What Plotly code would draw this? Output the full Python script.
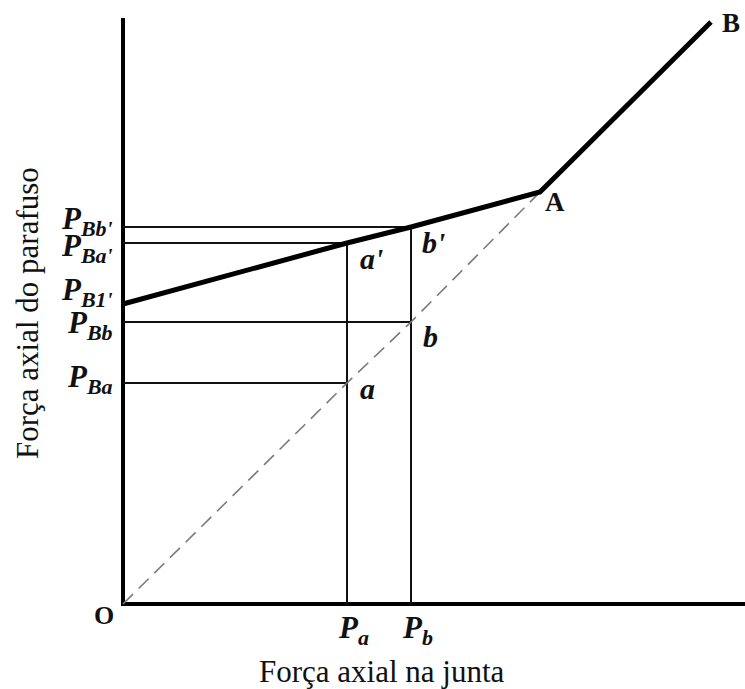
import plotly.graph_objects as go

# Joint diagram: bolt axial force vs. joint axial force (arbitrary units)
P_a, P_b = 224, 288                      # external loads on the joint
A_pt = (417, 412)                        # separation point A
B_pt = (588, 582)                        # end of bolt line, point B
P_B1p = 300                              # bolt force at zero load
P_Ba, P_Bb = 221, 282                    # loads carried along the 45° line
P_Bap, P_Bbp = 361, 377                  # bolt force at P_a and P_b

y_ticks = [P_Bbp, P_Bap, P_B1p, P_Bb, P_Ba]
y_tick_subs = ["Bb'", "Ba'", "B1'", "Bb", "Ba"]
x_ticks = [P_a, P_b]
x_tick_subs = ["a", "b"]

SERIF = "Liberation Serif"
INK = "#111111"

fig = go.Figure()

# thin construction lines at P_a and P_b
for px, y_lo, y_hi in [(P_a, P_Ba, P_Bap), (P_b, P_Bb, P_Bbp)]:
    fig.add_trace(go.Scatter(x=[0, px, px], y=[y_hi, y_hi, 0], mode="lines",
                             line=dict(color=INK, width=2), hoverinfo="skip"))
    fig.add_trace(go.Scatter(x=[0, px], y=[y_lo, y_lo], mode="lines",
                             line=dict(color=INK, width=2), hoverinfo="skip"))

# dashed joint line from the origin to A
fig.add_trace(go.Scatter(x=[0, P_a, P_b, A_pt[0]], y=[0, P_Ba, P_Bb, A_pt[1]],
                         mode="lines", hoverinfo="skip",
                         line=dict(color="#7a7a7a", width=1.6, dash="14px,8px")))

# bolt force line O'-a'-b'-A-B
fig.add_trace(go.Scatter(x=[0, P_a, P_b, A_pt[0], B_pt[0]],
                         y=[P_B1p, P_Bap, P_Bbp, A_pt[1], B_pt[1]],
                         mode="lines", hoverinfo="skip",
                         line=dict(color="#000000", width=5)))

annotations = []


def p_label(sub):
    # bold italic P with a lowered, slightly smaller subscript
    return (f"<b><i>P</i></b><sub><span style='font-size:22px'>"
            f"<b><i>{sub}</i></b></span></sub>")


# y-axis force labels
y_label_shift = [6, -5, 12, -3, 4]
for val, sub, dy in zip(y_ticks, y_tick_subs, y_label_shift):
    annotations.append(dict(
        x=0, y=val, xref="x", yref="y", xanchor="right", yanchor="middle",
        xshift=-8, yshift=dy, showarrow=False, text=p_label(sub),
        font=dict(family=SERIF, size=31, color=INK)))

# x-axis load labels
for val, sub in zip(x_ticks, x_tick_subs):
    annotations.append(dict(
        x=val, y=0, xref="x", yref="y", xanchor="center", yanchor="top",
        xshift=6, yshift=-4, showarrow=False, text=p_label(sub),
        font=dict(family=SERIF, size=31, color=INK)))

# point names
points = [
    ("<b><i>a</i></b>", P_a, P_Ba, 20, -5, 30),
    ("<b><i>a'</i></b>", P_a, P_Bap, 24, -15, 30),
    ("<b><i>b'</i></b>", P_b, P_Bbp, 22, -15, 30),
    ("<b><i>b</i></b>", P_b, P_Bb, 19, -14, 30),
    ("<b>A</b>", A_pt[0], A_pt[1], 15, -10, 27),
    ("<b>B</b>", B_pt[0], B_pt[1], 20, -1, 27),
    ("<b>O</b>", 0, 0, -19, -11, 26),
]
for txt, px, py, dx, dy, size in points:
    annotations.append(dict(
        x=px, y=py, xref="x", yref="y", xanchor="center", yanchor="middle",
        xshift=dx, yshift=dy, showarrow=False, text=txt,
        font=dict(family=SERIF, size=size, color=INK)))

L, R, T, Bm = 121, 0, 18, 83
W, H = 745, 689

# axis titles, placed in page pixels converted to paper fractions
titles = [("Força axial na junta", 382, 671, 0),
          ("Força axial do parafuso", 27, 313, -90)]
for txt, tx, ty, ang in titles:
    annotations.append(dict(
        x=(tx - L) / (W - L - R), y=(H - Bm - ty) / (H - T - Bm),
        xref="paper", yref="paper", xanchor="center", yanchor="middle",
        showarrow=False, textangle=ang, text=txt,
        font=dict(family=SERIF, size=31, color=INK)))

fig.update_layout(
    width=W, height=H,
    margin=dict(l=L, r=R, t=T, b=Bm),
    paper_bgcolor="white", plot_bgcolor="white",
    showlegend=False,
    annotations=annotations,
    xaxis=dict(range=[-2, 622], showgrid=False, showticklabels=False,
               ticks="", zeroline=True, zerolinewidth=4, zerolinecolor="#000000",
               fixedrange=True),
    yaxis=dict(range=[-2, 586], showgrid=False, showticklabels=False,
               ticks="", zeroline=True, zerolinewidth=4, zerolinecolor="#000000",
               fixedrange=True),
)

fig.write_html("out.html")
